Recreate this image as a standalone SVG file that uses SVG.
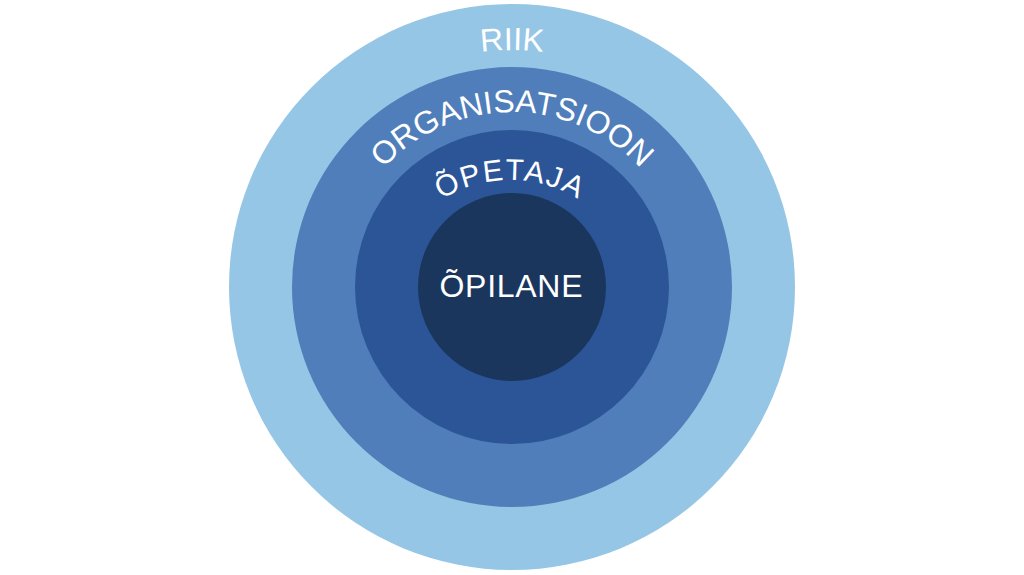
<svg xmlns="http://www.w3.org/2000/svg" width="1024" height="575" viewBox="0 0 1024 575">
  <style>
    .lbl { font-family: "Liberation Sans", Arial, sans-serif; fill: #ffffff; }
  </style>
  <defs>
    <path id="arcRiik" d="M 393.5 81.8 A 237 237 0 0 1 630.5 81.8"/>
    <path id="arcOrg" d="M 347.6 227.1 A 175 175 0 0 1 676.4 227.1"/>
    <path id="arcOpe" d="M 397.4 245 A 130 130 0 0 1 622.6 245"/>
  </defs>
  <rect width="1024" height="575" fill="#ffffff"/>
  <g id="riik">
    <circle cx="512" cy="287" r="283" fill="#96C6E5"/>
    <text class="lbl" font-size="32" text-anchor="middle"><textPath href="#arcRiik" startOffset="50%">RIIK</textPath></text>
  </g>
  <g id="organisatsioon">
    <circle cx="512" cy="287" r="220" fill="#4F7EBA"/>
    <text class="lbl" font-size="32" text-anchor="middle"><textPath href="#arcOrg" startOffset="50%">ORGANISATSIOON</textPath></text>
  </g>
  <g id="opetaja">
    <circle cx="512" cy="287" r="157" fill="#2C5597"/>
    <text class="lbl" font-size="30" letter-spacing="1.5" text-anchor="middle"><textPath href="#arcOpe" startOffset="50%">ÕPETAJA</textPath></text>
  </g>
  <g id="opilane">
    <circle cx="512" cy="287" r="94" fill="#1B365D"/>
    <text class="lbl" x="511" y="297" font-size="32" text-anchor="middle" textLength="143" lengthAdjust="spacing">ÕPILANE</text>
  </g>
  <g id="connectors"/>
</svg>
